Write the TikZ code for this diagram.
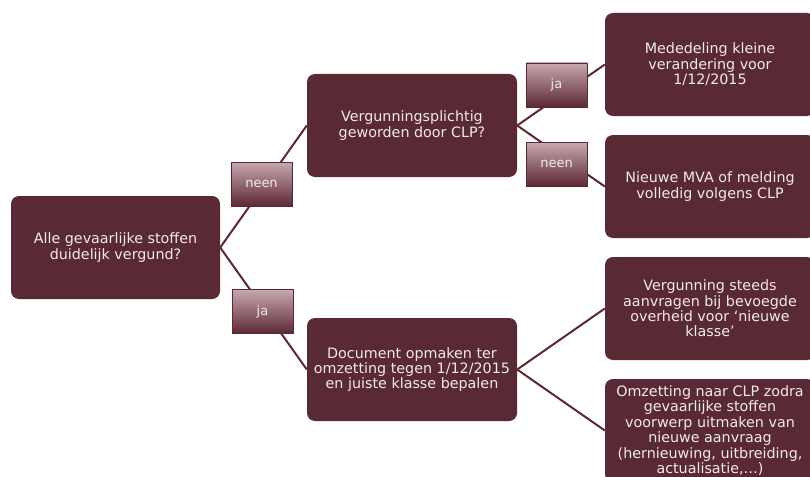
\documentclass[tikz,border=0pt]{standalone}
\usepackage{fontspec}
\setmainfont{DejaVu Sans}
\usetikzlibrary{backgrounds}
\definecolor{boxfill}{RGB}{89,41,52}
\definecolor{linecol}{RGB}{92,40,52}
\definecolor{labtop}{RGB}{200,168,175}
\definecolor{labbot}{RGB}{92,40,52}
\definecolor{txt}{RGB}{242,234,236}
\tikzset{
  mainbox/.style={fill=boxfill, rounded corners=8pt, minimum width=210pt, minimum height=103pt,
    inner sep=0pt, align=center, text=txt, font=\fontsize{14.3}{15.4}\selectfont},
  labbox/.style={draw=linecol, line width=0.6pt, top color=labtop, bottom color=labbot,
    minimum width=61pt, minimum height=44pt, inner sep=0pt, text=txt, font=\fontsize{13}{15}\selectfont},
  conn/.style={draw=linecol, line width=2pt}
}
\begin{document}
\begin{tikzpicture}[x=1pt,y=-1pt]
\useasboundingbox (0,0) rectangle (810,476);
\node[mainbox, minimum width=209pt] (root) at (115.5,247.5) {Alle gevaarlijke stoffen\\duidelijk vergund?};
\node[mainbox] (A) at (412,125.5) {Vergunningsplichtig\\geworden door CLP?};
\node[mainbox] (B) at (412,369.5) {Document opmaken ter\\omzetting tegen 1/12/2015\\en juiste klasse bepalen};
\node[mainbox] (A1) at (710,64.5) {Mededeling kleine\\verandering voor\\1/12/2015};
\node[mainbox] (A2) at (710,186.5) {Nieuwe MVA of melding\\volledig volgens CLP};
\node[mainbox] (B1) at (710,308.5) {Vergunning steeds\\aanvragen bij bevoegde\\overheid voor ‘nieuwe\\klasse’};
\node[mainbox] (B2) at (710,430.5) {Omzetting naar CLP zodra\\gevaarlijke stoffen\\voorwerp uitmaken van\\nieuwe aanvraag\\(hernieuwing, uitbreiding,\\actualisatie,…)};
\node[labbox] (l1) at (261.5,184) {neen};
\node[labbox] (l2) at (262.5,311.5) {ja};
\node[labbox] (l3) at (556.5,85) {ja};
\node[labbox] (l4) at (556.5,164) {neen};
\begin{scope}[on background layer]
\draw[conn] (root.east) -- (A.west);
\draw[conn] (root.east) -- (B.west);
\draw[conn] (A.east) -- (A1.west);
\draw[conn] (A.east) -- (A2.west);
\draw[conn] (B.east) -- (B1.west);
\draw[conn] (B.east) -- (B2.west);
\end{scope}
\end{tikzpicture}
\end{document}
